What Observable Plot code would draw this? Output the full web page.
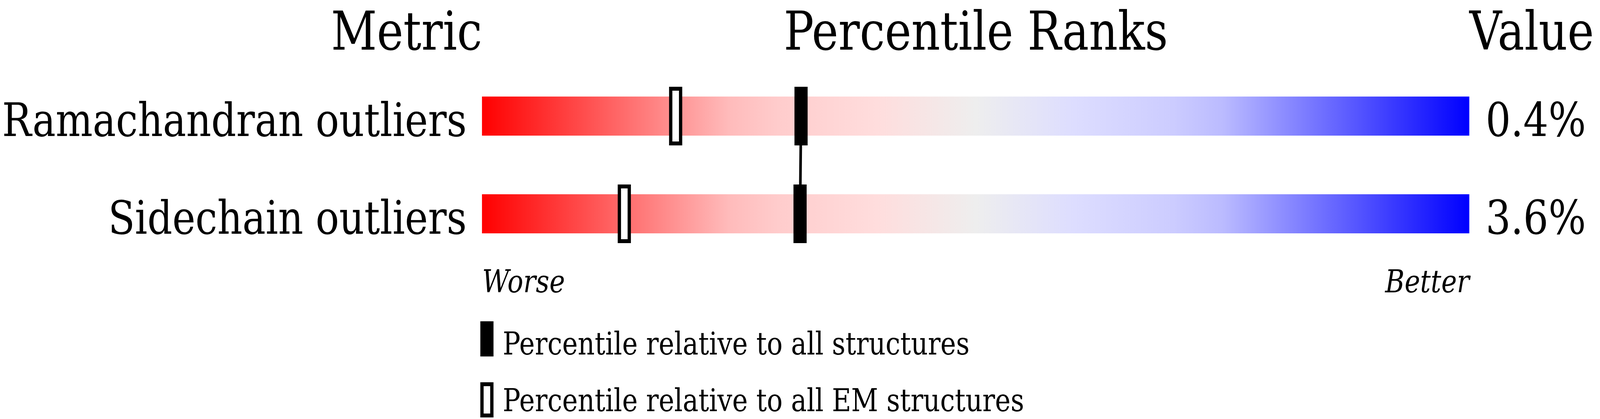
<!DOCTYPE html>
<html>
<head>
<meta charset="utf-8">
<script src="https://cdn.jsdelivr.net/npm/d3@7"></script>
<script src="https://cdn.jsdelivr.net/npm/@observablehq/plot@0.6"></script>
<style>
  html, body { margin: 0; padding: 0; background: #fff; overflow: hidden; }
  #chart svg { display: block; }
</style>
</head>
<body>
<div id="chart"></div>
<script>
// ---- data ----
const metrics = ["Ramachandran outliers", "Sidechain outliers"];
const valueLabels = ["0.4%", "3.6%"];
const pctAll = [32.3, 32.2];       // percentile relative to all structures
const pctEM = [19.6, 14.4];        // percentile relative to all EM structures
const headers = ["Metric", "Percentile Ranks", "Value"];
const endLabels = ["Worse", "Better"];
const legendLabels = ["Percentile relative to all structures", "Percentile relative to all EM structures"];
const gradientOffsets = [0, 0.25, 0.3, 0.4, 0.5, 0.6, 0.7, 0.75, 1];
const gradientColors = ["#ff0000", "#ffbbbb", "#ffcccc", "#ffdddd", "#eeeeee", "#ddddff", "#ccccff", "#bbbbff", "#0000ff"];
const pctDomain = [0, 100];

const rows = metrics.map((m, i) => ({metric: m, value: valueLabels[i], all: pctAll[i], em: pctEM[i]}));

const FONT = "DejaVu Serif";
const W = 4860, PLOT_H = 780, LEGEND_H = 292;
// the browser window may be narrower than the design width: fit it horizontally
const viewW = Math.min(W, document.documentElement.clientWidth || window.innerWidth || W);

// gradient definition (referenced by the bars)
const defsSvg = d3.select("body").insert("svg", "#chart")
  .attr("width", 0).attr("height", 0)
  .style("position", "absolute");
const grad = defsSvg.append("defs").append("linearGradient")
  .attr("id", "pctGradient").attr("x1", "0").attr("x2", "1").attr("y1", "0").attr("y2", "0");
gradientOffsets.forEach((o, i) => {
  grad.append("stop").attr("offset", o).attr("stop-color", gradientColors[i]);
});

const plot = Plot.plot({
  width: W,
  height: PLOT_H,
  marginLeft: 1464,
  marginRight: 397,
  marginTop: 0,
  marginBottom: 0,
  style: {fontFamily: FONT, background: "white", color: "black"},
  x: {domain: pctDomain, axis: null},
  y: {type: "band", domain: metrics, range: [97, 747], padding: 0.6, axis: null},
  marks: [
    // gradient bars
    Plot.barX(rows, {x1: pctDomain[0], x2: pctDomain[1], y: "metric", fill: "url(#pctGradient)"}),
    // connecting line between "all structures" markers
    Plot.line(rows, {x: "all", y: "metric", stroke: "black", strokeWidth: 8}),
    // EM structures (hollow) markers
    Plot.tickX(rows, {x: "em", y: "metric", stroke: "black", strokeWidth: 40, insetTop: -25, insetBottom: -25}),
    Plot.tickX(rows, {x: "em", y: "metric", stroke: "white", strokeWidth: 20, insetTop: -15, insetBottom: -15}),
    // all structures (filled) markers
    Plot.tickX(rows, {x: "all", y: "metric", stroke: "black", strokeWidth: 40, insetTop: -25, insetBottom: -25}),
    // metric labels
    Plot.text(rows, {x: pctDomain[0], y: "metric", text: "metric", textAnchor: "end", dx: -47,
      lineAnchor: "bottom", dy: 50, fontSize: 118.5, fill: "black"}),
    // value labels
    Plot.text(rows, {x: pctDomain[1], y: "metric", text: "value", textAnchor: "start", dx: 49,
      lineAnchor: "bottom", dy: 50, fontSize: 120, fill: "black"}),
    // headers
    Plot.text([headers[0]], {x: pctDomain[0], text: d => d, frameAnchor: "top", textAnchor: "end",
      lineAnchor: "bottom", dy: 126, fontSize: 136, fill: "black"}),
    Plot.text([headers[1]], {x: (pctDomain[0] + pctDomain[1]) / 2, text: d => d, frameAnchor: "top", textAnchor: "middle",
      lineAnchor: "bottom", dy: 126, fontSize: 136, fill: "black"}),
    Plot.text([headers[2]], {x: pctDomain[1], text: d => d, frameAnchor: "top", textAnchor: "start",
      lineAnchor: "bottom", dy: 126, fontSize: 136, fill: "black"}),
    // worse / better
    Plot.text([endLabels[0]], {x: pctDomain[0], text: d => d, frameAnchor: "bottom", textAnchor: "start",
      lineAnchor: "bottom", dy: -33, fontSize: 80, fontStyle: "italic", fill: "black"}),
    Plot.text([endLabels[1]], {x: pctDomain[1], text: d => d, frameAnchor: "bottom", textAnchor: "end",
      lineAnchor: "bottom", dy: -33, fontSize: 80, fontStyle: "italic", fill: "black"})
  ]
});
plot.setAttribute("viewBox", `0 0 ${W} ${PLOT_H}`);
plot.setAttribute("preserveAspectRatio", "none");
plot.setAttribute("width", viewW);
plot.setAttribute("height", PLOT_H);
plot.style.maxWidth = "none";
plot.style.width = viewW + "px";
plot.style.height = PLOT_H + "px";
document.getElementById("chart").appendChild(plot);

// legend below the plot
const legend = d3.select("#chart").append("svg")
  .attr("viewBox", `0 0 ${W} ${LEGEND_H}`)
  .attr("preserveAspectRatio", "none")
  .attr("width", viewW).attr("height", LEGEND_H)
  .attr("font-family", FONT);
legend.append("rect").attr("x", 1459).attr("y", 42).attr("width", 40).attr("height", 90).attr("fill", "black");
legend.append("text").attr("x", 1527).attr("y", 127).attr("font-size", 80).attr("fill", "black").text(legendLabels[0]);
legend.append("rect").attr("x", 1464).attr("y", 203).attr("width", 30).attr("height", 80)
  .attr("fill", "white").attr("stroke", "black").attr("stroke-width", 10);
legend.append("text").attr("x", 1527).attr("y", 272).attr("font-size", 80).attr("fill", "black").text(legendLabels[1]);
</script>
</body>
</html>
